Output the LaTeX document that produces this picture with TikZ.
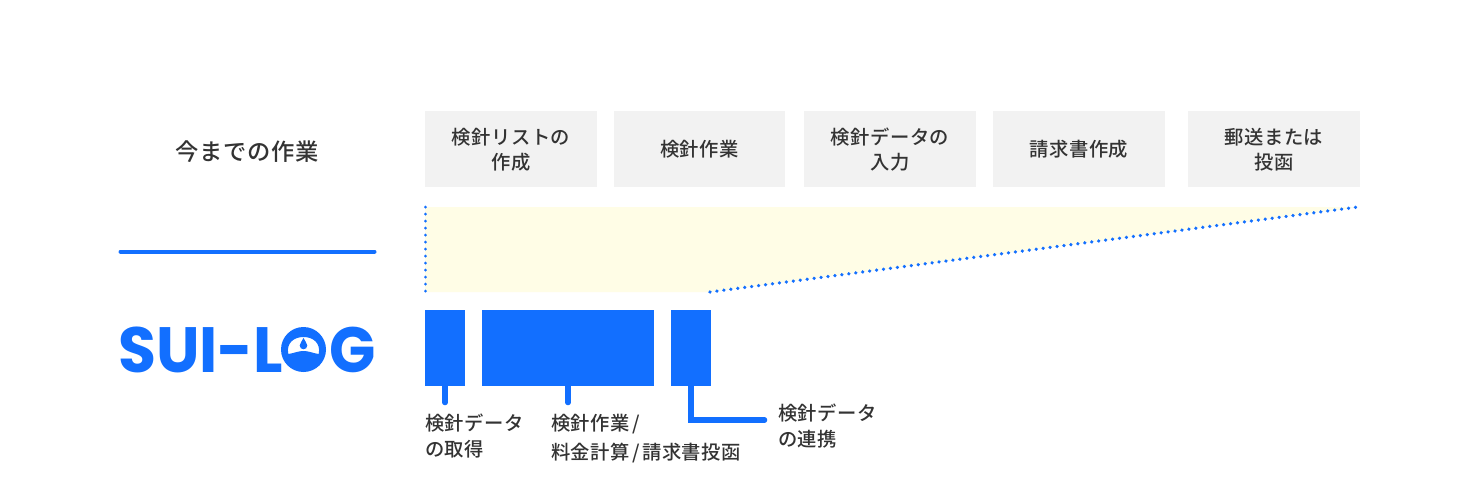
\documentclass[tikz,border=0pt]{standalone}
\usepackage{fontspec}
\newfontfamily\jp[LetterSpace=2.5]{Noto Sans CJK JP Medium}
\newfontfamily\jpbig[LetterSpace=2.5]{Noto Sans CJK JP Medium}
\newfontfamily\logof{Poppins Bold}
\newcommand{\sla}{\hspace{2.5pt}/\hspace{2.5pt}}
\definecolor{blue}{HTML}{126FFF}
\definecolor{gbox}{HTML}{F2F2F2}
\definecolor{ink}{HTML}{333333}
\definecolor{pale}{HTML}{FFFDE6}
\tikzset{
  x=1pt,y=-1pt,
  grey/.style={fill=gbox,minimum width=172pt,minimum height=76pt,inner sep=0pt,outer sep=0pt},
  greytext/.style={inner sep=0pt,text=ink,align=center,font=\jp\fontsize{19.3pt}{25pt}\selectfont},
  bar/.style={fill=blue,minimum height=76pt,inner sep=0pt,outer sep=0pt},
  lab/.style={text=ink,align=left,anchor=north west,inner sep=0pt,font=\jp\fontsize{19.3pt}{26pt}\selectfont},
  lead/.style={draw=blue,line width=5.5pt,line cap=round,line join=miter},
  dots/.style={draw=blue,line width=3.6pt,line cap=round,dash pattern=on 0.01pt off 6.99pt},
  logo/.style={text=blue,inner sep=0pt,anchor=base west,transform shape,font=\logof\fontsize{64pt}{64pt}\selectfont},
}
\begin{document}
\begin{tikzpicture}
\useasboundingbox (0,0) rectangle (1480,503);
\fill[white] (0,0) rectangle (1480,503);
\node[grey] (g1) at (511,149) {};
\node[grey,minimum width=171pt] (g2) at (699.5,149) {};
\node[grey] (g3) at (890,149) {};
\node[grey] (g4) at (1079,149) {};
\node[grey] (g5) at (1274,149) {};
\node[greytext,yshift=-1pt] (t1) at (g1) {検針リストの\\作成};
\node[greytext] (t2) at (g2) {検針作業};
\node[greytext,yshift=-1pt] (t3) at (g3) {検針データの\\入力};
\node[greytext] (t4) at (g4) {請求書作成};
\node[greytext,yshift=-1pt] (t5) at (g5) {郵送または\\投函};
\node[text=ink,inner sep=0pt,font=\jpbig\fontsize{23.3pt}{26pt}\selectfont] (now) at (247,152) {今までの作業};
\coordinate (lineL) at (120.5,251.5);
\coordinate (lineR) at (374.5,251.5);
\draw[blue,line width=4pt,line cap=round] (lineL) -- (lineR);
% pale band
\coordinate (tl) at (425,207);
\coordinate (tr) at (1358,207);
\coordinate (bl) at (425,292);
\coordinate (br) at (710,292);
\fill[pale] (tl) -- (tr) -- (br) -- (bl) -- cycle;
\draw[dots,line width=3pt] (tl) -- (bl);
\draw[dots] (br) -- (tr);
% blue bars
\node[bar,minimum width=40pt] (b1) at (445,348) {};
\node[bar,minimum width=172pt] (b2) at (568,348) {};
\node[bar,minimum width=40pt] (b3) at (691,348) {};
% labels
\node[lab] (l1) at (425,413.5) {検針データ\\の取得};
\node[lab,font=\jp\fontsize{19.3pt}{29pt}\selectfont] (l2) at (551,414) {検針作業\sla\\料金計算\sla 請求書投函};
\node[lab] (l3) at (778,403.5) {検針データ\\の連携};
\coordinate (e1) at (445,402.5);
\coordinate (e2) at (568,402.5);
\coordinate (e3) at (764.5,420);
\draw[lead] (b1.south) -- (e1);
\draw[lead] (b2.south) -- (e2);
\draw[lead] (b3.south) |- (e3);
% logo
\node[logo,xscale=.965] (sui) at (118,372) {SUI-L};
\fill[blue,even odd rule] (303.5,349.5) circle (22.5)
  (288.3,354) .. controls (286,343) and (294,337) .. (303.5,337)
  .. controls (313,337) and (321,343) .. (318.7,354)
  .. controls (312,353) and (309,351) .. (303.5,351)
  .. controls (298,351) and (295,353) .. (288.3,354) -- cycle;
\fill[blue] (303.5,338) .. controls (302.5,341) and (299.7,343) .. (299.7,345.5)
  .. controls (299.7,350.5) and (307.3,350.5) .. (307.3,345.5)
  .. controls (307.3,343) and (304.5,341) .. (303.5,338) -- cycle;
\node[logo,xscale=.95] (g) at (329.5,372) {G};
\end{tikzpicture}
\end{document}
